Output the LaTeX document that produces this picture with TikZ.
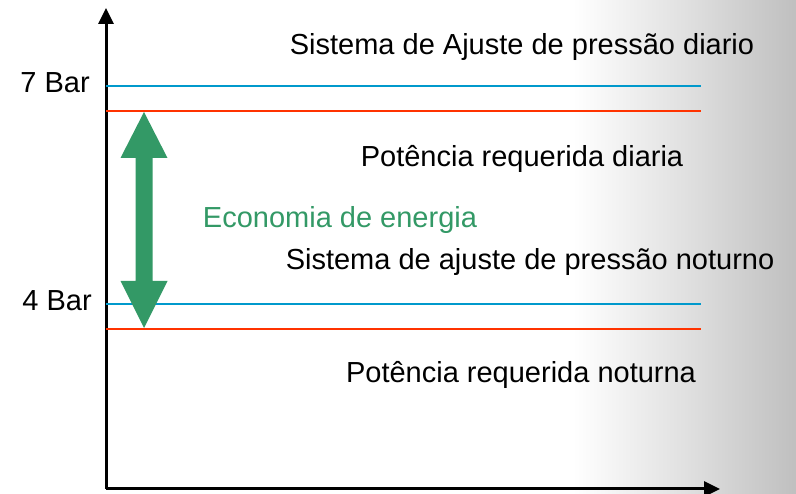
\documentclass[tikz,border=0pt]{standalone}
\usepackage{fontspec}
\setmainfont{Liberation Sans}
\usetikzlibrary{arrows.meta}

\definecolor{dayblue}{RGB}{0,153,204}
\definecolor{powred}{RGB}{255,51,0}
\definecolor{ecogreen}{RGB}{51,153,102}
\pgfdeclarehorizontalshading{bgfade}{100bp}{color(0bp)=(white); color(25bp)=(white);
  color(61bp)=(white); color(68bp)=(black!12); color(75bp)=(black!25); color(100bp)=(black!25)}

\tikzset{
  lbl/.style={font=\fontsize{29}{34}\selectfont, anchor=base, inner sep=0pt},
  axis/.style={line width=3pt, -{Triangle[length=16pt,width=15pt]}},
  level/.style={line width=2.5pt}
}

\begin{document}
\begin{tikzpicture}[x=1pt, y=-1pt]
    \useasboundingbox (0,0) rectangle (796,494);
    \shade[shading=bgfade] (0,0) rectangle (796,494);

    % axes
    \coordinate (o) at (106,489);
    \coordinate (ytop) at (106,8);
    \coordinate (xend) at (720,489);
    \draw[axis] (o) -- (ytop);
    \draw[axis] (o) -- (xend);

    % pressure and power levels
    \foreach \y/\c/\n in {86/dayblue/p7, 111/powred/w7, 304/dayblue/p4, 329/powred/w4} {
        \coordinate (\n a) at (106,\y);
        \coordinate (\n b) at (701,\y);
        \draw[level, \c] (\n a) -- (\n b);
    }

    % savings arrow
    \fill[ecogreen] (144,112) -- (167.5,158) -- (152.5,158) -- (152.5,281) -- (167.5,281)
        -- (144,328) -- (120.5,281) -- (135.5,281) -- (135.5,158) -- (120.5,158) -- cycle;

    \node[lbl, anchor=base east] (bar7) at (90,93) {7 Bar};
    \node[lbl, anchor=base east] (bar4) at (92,311) {4 Bar};
    \node[lbl] (sysday) at (522,55) {Sistema de Ajuste de pressão diario};
    \node[lbl] (powday) at (522,167) {Potência requerida diaria};
    \node[lbl, text=ecogreen] (eco) at (340,228) {Economia de energia};
    \node[lbl] (sysnight) at (530,270) {Sistema de ajuste de pressão noturno};
    \node[lbl] (pownight) at (521,383) {Potência requerida noturna};
\end{tikzpicture}
\end{document}
